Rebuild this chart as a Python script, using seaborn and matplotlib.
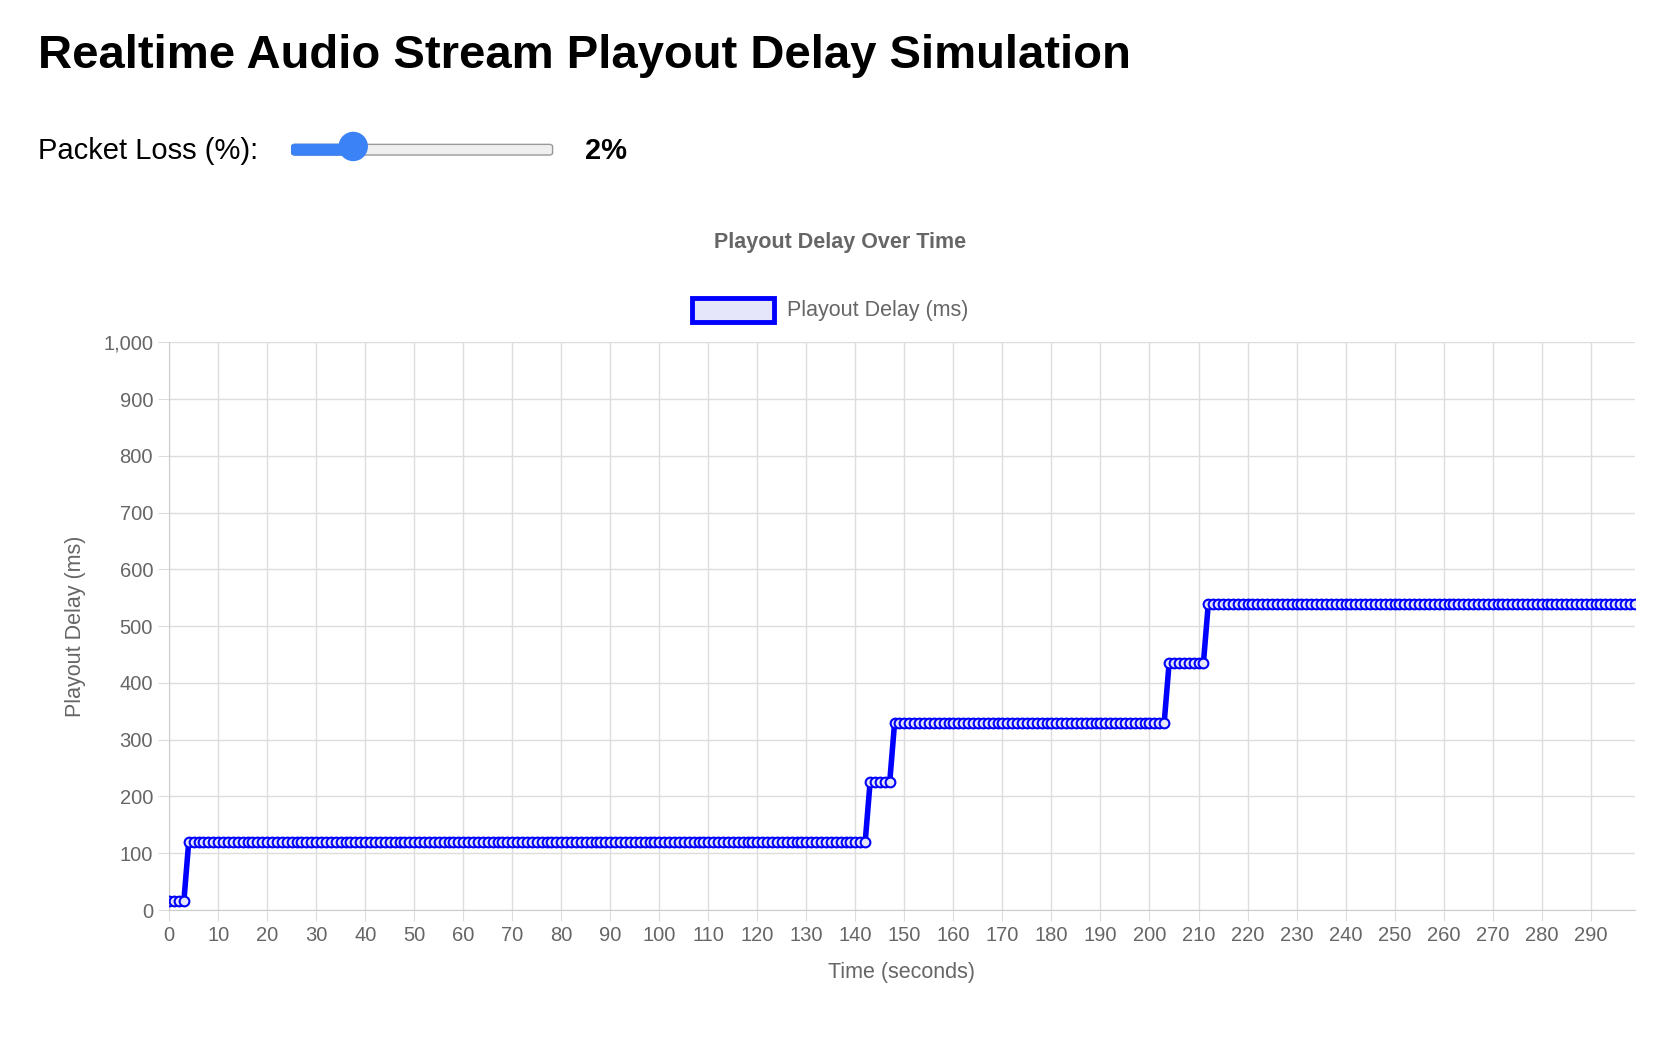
import numpy as np
import pandas as pd
import matplotlib
matplotlib.use("Agg")
import matplotlib.pyplot as plt
import seaborn as sns
from matplotlib.patches import FancyBboxPatch, Circle

# Data: step levels and their time ranges (seconds, inclusive start)
level_starts = [0, 4, 143, 148, 204, 212]
level_values = [15, 120, 225, 330, 435, 540]
n_seconds = 300
time_s = list(range(n_seconds))
delay_ms = []
for t in time_s:
    v = level_values[0]
    for s, val in zip(level_starts, level_values):
        if t >= s:
            v = val
    delay_ms.append(v)
df = pd.DataFrame({"Time (seconds)": time_s, "Playout Delay (ms)": delay_ms})
x_ticks = list(range(0, 300, 10))
y_ticks = list(range(0, 1001, 100))

plt.rcParams["font.family"] = "Liberation Sans"
fig = plt.figure(figsize=(16.8, 10.5), dpi=100)
W, H = 1680, 1050
sc = 1680/1560
ax = fig.add_axes([157*sc/W, 1-845*sc/H, (1518-157)*sc/W, (845-318)*sc/H])

sns.lineplot(data=df, x="Time (seconds)", y="Playout Delay (ms)", ax=ax,
             color="#0000ff", linewidth=4, marker="o", markersize=7,
             markerfacecolor="#e6e6fa", markeredgecolor="#0000ff", markeredgewidth=1.5,
             label="Playout Delay (ms)", legend=False, zorder=3)
ax.set_xlim(0 - 0.01, 299)
ax.set_ylim(0, 1000)
ax.set_xticks(x_ticks)
ax.set_yticks(y_ticks)
ax.set_yticklabels([f"{v:,}" for v in y_ticks])
ax.grid(True, color="#dddddd", linewidth=1)
ax.set_axisbelow(True)
for s in ["top", "right"]:
    ax.spines[s].set_visible(False)
for s in ["left", "bottom"]:
    ax.spines[s].set_color("#cccccc")
ax.tick_params(colors="#666666", labelsize=14.5, length=8, color="#dddddd")
ax.set_xlabel("Time (seconds)", fontsize=15.5, color="#666666", labelpad=12)
ax.set_ylabel("Playout Delay (ms)", fontsize=15.5, color="#666666", labelpad=12)

fig.text(35*sc/W, 1-52*sc/H, "Realtime Audio Stream Playout Delay Simulation",
         fontsize=34, fontweight="bold", va="center", ha="left")
fig.text(35*sc/W, 1-140*sc/H, "Packet Loss (%):", fontsize=21, va="center")
fig.text(543*sc/W, 1-140*sc/H, "2%", fontsize=21, fontweight="bold", va="center")
fig.text(780*sc/W, 1-225*sc/H, "Playout Delay Over Time", fontsize=15.5,
         fontweight="bold", color="#666666", ha="center", va="center")
# legend
fig.patches.append(FancyBboxPatch((643*sc/W, 1-299*sc/H), 76*sc/W, 22*sc/H,
                   boxstyle="square,pad=0", transform=fig.transFigure,
                   facecolor="#e6e6fa", edgecolor="#0000ff", linewidth=3.5))
fig.text(731*sc/W, 1-288*sc/H, "Playout Delay (ms)", fontsize=15.5,
         color="#666666", va="center")
# slider
fig.patches.append(FancyBboxPatch((274*sc/W, 1-142*sc/H), 236*sc/W, 6*sc/H,
                   boxstyle="round,pad=0.002", transform=fig.transFigure,
                   facecolor="#efefef", edgecolor="#999999", linewidth=1))
fig.patches.append(FancyBboxPatch((274*sc/W, 1-142*sc/H), 54*sc/W, 6*sc/H,
                   boxstyle="round,pad=0.002", transform=fig.transFigure,
                   facecolor="#3b82f6", edgecolor="#3b82f6", linewidth=1))
ax2 = fig.add_axes([0, 0, 1, 1], zorder=5)
ax2.set_xlim(0, W); ax2.set_ylim(H, 0); ax2.axis("off")
ax2.add_patch(Circle((328*sc, 136*sc), 13*sc, color="#3b82f6"))
ax2.set_aspect("auto")
fig.savefig("out.png", dpi=100)
